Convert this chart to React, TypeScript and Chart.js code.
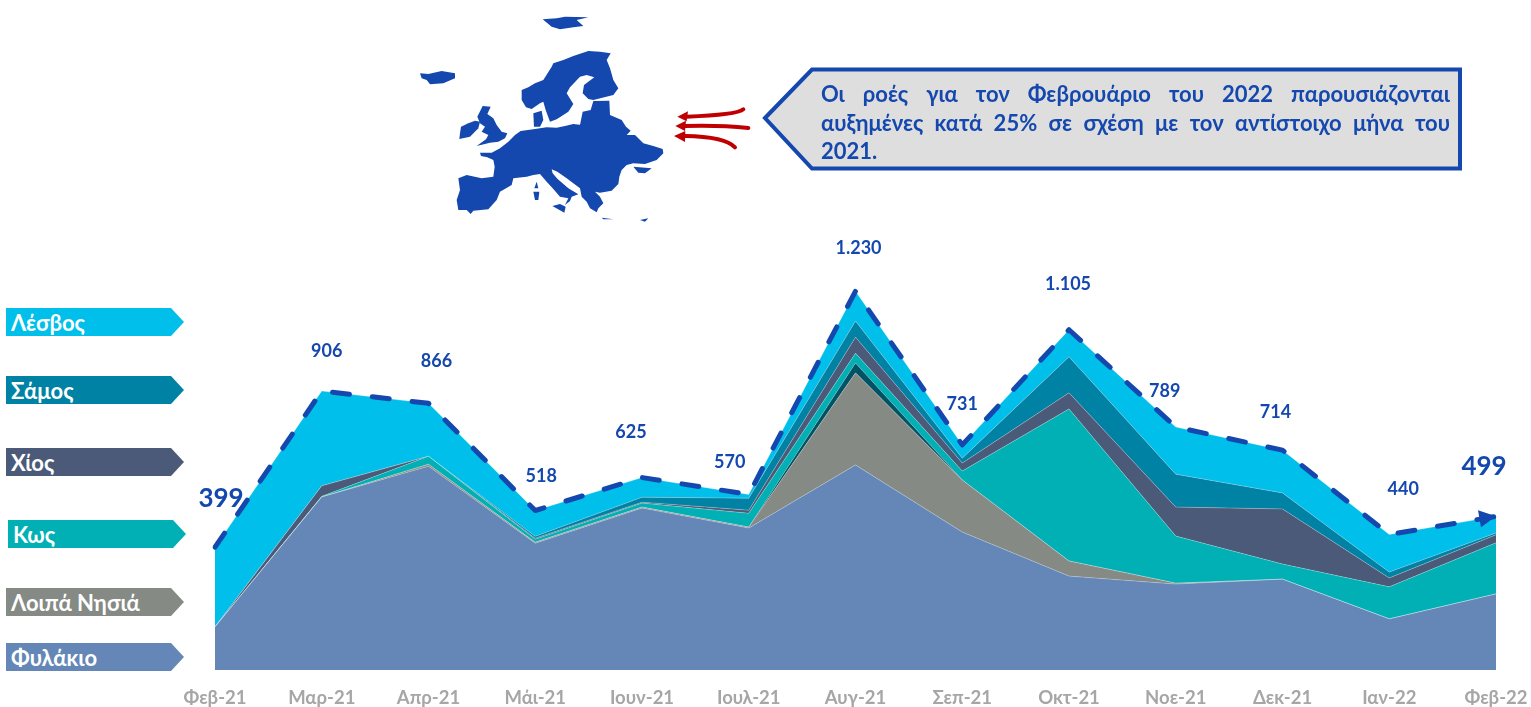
import React, { useEffect, useRef } from "react";
import { Chart, registerables } from "chart.js";

Chart.register(...registerables);

const months = ["Φεβ-21","Μαρ-21","Απρ-21","Μάι-21","Ιουν-21","Ιουλ-21","Αυγ-21","Σεπ-21","Οκτ-21","Νοε-21","Δεκ-21","Ιαν-22","Φεβ-22"];
const fylakio = [140,562,662,412,526,461,666,448,305,279,295,166,247];
const loipa = [0,0,6,3,3,3,299,169,49,3,0,0,0];
const other = [0,0,0,0,0,0,32,0,0,0,0,0,0];
const kos = [0,2,26,10,13,45,32,29,494,153,49,104,166];
const chios = [0,34,0,3,3,10,52,26,52,94,179,29,26];
const samos = [0,0,0,6,16,39,52,16,117,107,52,19,6];
const lesvos = [259,308,172,84,64,12,97,43,88,153,139,122,54];
const totals = [399,906,866,518,625,570,1230,731,1105,789,714,440,499];
const totalLabels = ["399","906","866","518","625","570","1.230","731","1.105","789","714","440","499"];
const labelDx = [6,5,8,6,-11,-19,3,0,-1,-11,-7,14,-12];
const labelDy = [-49,-40,-42,-34,-45,-32,-43,-41,-46,-36,-38,-45,-50];
const bigLabels = [0,12];

const legendItems = [
  { name: "Λέσβος", color: "#00BFEB", left: 6, top: 308 },
  { name: "Σάμος", color: "#0082A5", left: 6, top: 376 },
  { name: "Χίος", color: "#4B5A78", left: 6, top: 448 },
  { name: "Κως", color: "#00B0B4", left: 8, top: 520 },
  { name: "Λοιπά Νησιά", color: "#858A85", left: 6, top: 588 },
  { name: "Φυλάκιο", color: "#6487B8", left: 6, top: 643 },
];

const calloutLines = [
  "Οι ροές για τον Φεβρουάριο του 2022 παρουσιάζονται",
  "αυξημένες κατά 25% σε σχέση με τον αντίστοιχο μήνα του",
  "2021.",
];

const BLUE = "#1448AE";
const FONT = "Lato, 'Open Sans', sans-serif";

const europeShapes = [
  "M175,535 L200,525 L245,535 L280,530 L284,500 L280,480 L262,472 L243,468 L240,458 L275,458 L300,445 L325,425 L345,405 L362,393 L400,388 L440,382 L470,383 L495,378 L520,372 L545,375 L575,378 L540,375 L548,335 L572,330 L580,303 L628,302 L630,345 L665,360 L678,380 L692,392 L680,405 L705,405 L730,430 L760,438 L788,447 L790,460 L770,480 L735,492 L700,490 L680,495 L665,510 L658,530 L655,552 L635,572 L600,578 L585,575 L600,590 L610,610 L595,625 L590,637 L570,625 L560,605 L545,590 L540,565 L500,535 L472,515 L455,508 L458,520 L472,536 L505,565 L535,583 L515,590 L510,603 L495,615 L505,595 L480,590 L458,565 L440,545 L420,522 L400,525 L380,530 L340,535 L335,555 L300,575 L290,600 L265,628 L220,632 L212,642 L200,630 L175,630 L170,600 L180,570 Z",
  "M365,270 L385,262 L405,250 L430,240 L455,200 L460,190 L490,180 L520,168 L565,153 L600,155 L632,160 L620,180 L630,205 L640,240 L655,265 L640,285 L580,300 L565,297 L548,280 L552,255 L583,232 L560,225 L540,230 L510,262 L500,280 L520,312 L505,335 L490,345 L470,358 L450,365 L437,330 L430,305 L420,310 L395,327 L378,322 L365,300 Z",
  "M400,340 L425,332 L430,360 L420,380 L402,380 Z",
  "M232,350 L248,318 L272,320 L262,342 L280,355 L290,375 L305,395 L322,400 L315,415 L295,425 L270,428 L230,438 L258,418 L265,405 L245,395 L255,380 L240,370 Z",
  "M183,380 L205,370 L225,362 L240,365 L235,385 L210,410 L178,417 L180,400 Z",
  "M60,220 L85,222 L125,213 L165,220 L165,235 L130,250 L90,253 L80,240 L65,235 Z",
  "M428,58 L470,55 L495,50 L565,52 L530,60 L550,78 L520,82 L480,88 L455,80 Z",
  "M410,545 L415,565 L403,565 Z",
  "M400,575 L418,575 L415,600 L405,600 Z",
  "M457,618 L480,612 L497,620 L493,638 Z",
  "M605,653 L640,658 L610,658 Z",
  "M720,660 L745,655 L735,665 Z",
  "M700,500 L755,505 L735,520 L715,518 Z",
];
const redLines = ["M1030,328 Q1010,345 860,350", "M1045,384 Q960,375 855,378", "M1005,442 Q975,410 855,408"];
const redHeads = ["M832,350 L864,334 L860,364 Z", "M826,378 L858,362 L855,393 Z", "M822,408 L856,393 L855,426 Z"];

const overlayPlugin = {
  id: "overlay",
  afterDatasetsDraw(chart: any) {
    const { ctx, scales } = chart;
    const x = scales.x;
    const y = scales.y;
    ctx.save();
    const n = totals.length - 1;
    const tx = x.getPixelForValue(n);
    const ty = y.getPixelForValue(totals[n]);
    ctx.fillStyle = BLUE;
    ctx.beginPath();
    ctx.moveTo(tx, ty);
    ctx.lineTo(tx - 18, ty - 6);
    ctx.lineTo(tx - 15, ty + 11);
    ctx.closePath();
    ctx.fill();
    ctx.textAlign = "center";
    ctx.textBaseline = "middle";
    totals.forEach((v, i) => {
      const big = bigLabels.includes(i);
      ctx.font = `bold ${big ? 26 : 18}px ${FONT}`;
      ctx.fillText(totalLabels[i], x.getPixelForValue(i) + labelDx[i], y.getPixelForValue(v) + labelDy[i]);
    });
    ctx.restore();
  },
};

const area = (label: string, data: number[], color: string, fill: any) => ({
  label,
  data,
  backgroundColor: color,
  borderColor: "rgba(255,255,255,0.25)",
  borderWidth: 1,
  pointRadius: 0,
  tension: 0,
  fill,
  stack: "areas",
});

export default function App() {
  const ref = useRef<HTMLCanvasElement>(null);
  useEffect(() => {
    const chart = new Chart(ref.current as HTMLCanvasElement, {
      type: "line",
      data: {
        labels: months,
        datasets: [
          area("Φυλάκιο", fylakio, "#6487B8", "origin"),
          area("Λοιπά Νησιά", loipa, "#858A85", "-1"),
          area("Άλλα", other, "#005265", "-1"),
          area("Κως", kos, "#00B0B4", "-1"),
          area("Χίος", chios, "#4B5A78", "-1"),
          area("Σάμος", samos, "#0082A5", "-1"),
          area("Λέσβος", lesvos, "#00BFEB", "-1"),
          {
            label: "Σύνολο",
            data: totals,
            borderColor: BLUE,
            borderWidth: 5,
            borderDash: [17, 23],
            borderCapStyle: "round",
            borderJoinStyle: "round",
            pointRadius: 0,
            tension: 0,
            fill: false,
            stack: "total",
            order: -1,
          },
        ] as any,
      },
      options: {
        responsive: false,
        animation: false,
        layout: { padding: { left: 215, right: 35, top: 270, bottom: 0 } },
        plugins: { legend: { display: false }, tooltip: { enabled: false } },
        scales: {
          x: {
            grid: { display: false },
            border: { display: false },
            afterFit: (s: any) => { s.height = 37; s.paddingLeft = 0; s.paddingRight = 0; },
            ticks: {
              autoSkip: false,
              maxRotation: 0,
              padding: 9,
              color: "#A6A6A6",
              font: { family: FONT, weight: "bold", size: 18.5 },
            },
          },
          y: { display: false, stacked: true, min: 0, max: 1299 },
        },
      } as any,
      plugins: [overlayPlugin],
    });
    return () => chart.destroy();
  }, []);

  return (
    <div style={{ position: "absolute", left: 0, top: 0, width: 1531, height: 707, overflow: "hidden", background: "#fff", fontFamily: FONT }}>
      <canvas ref={ref} width={1531} height={707} style={{ display: "block" }} />
      <svg viewBox="0 0 1080 690" width={360} height={230} style={{ position: "absolute", left: 400, top: 0 }}>
        {europeShapes.map((d, i) => <path key={i} d={d} fill="#1448AE" />)}
        {redLines.map((d, i) => <path key={i} d={d} fill="none" stroke="#C00000" strokeWidth={12} strokeLinecap="round" />)}
        {redHeads.map((d, i) => <path key={i} d={d} fill="#C00000" />)}
      </svg>
      <svg width={710} height={110} style={{ position: "absolute", left: 760, top: 64 }}>
        <path d="M5,54 L52,5.5 L700,5.5 L700,104.5 L52,104.5 Z" fill="#DEDEDE" stroke={BLUE} strokeWidth={4} />
      </svg>
      <div style={{ position: "absolute", left: 821, top: 80, width: 629, color: BLUE, fontWeight: 700, fontSize: 22, lineHeight: "28.5px" }}>
        {calloutLines.map((t, i) => (
          <div key={i} style={{ textAlign: "justify", textAlignLast: i < 2 ? "justify" : "left", whiteSpace: "nowrap" }}>{t}</div>
        ))}
      </div>
      {legendItems.map((it) => (
        <div key={it.name} style={{
          position: "absolute", left: it.left, top: it.top, width: 178, height: 28, background: it.color,
          clipPath: "polygon(0 0, 165px 0, 100% 50%, 165px 100%, 0 100%)",
          color: "#fff", fontWeight: 700, fontSize: 22, lineHeight: "30px", paddingLeft: 5, boxSizing: "border-box", whiteSpace: "nowrap",
        }}>{it.name}</div>
      ))}
    </div>
  );
}
